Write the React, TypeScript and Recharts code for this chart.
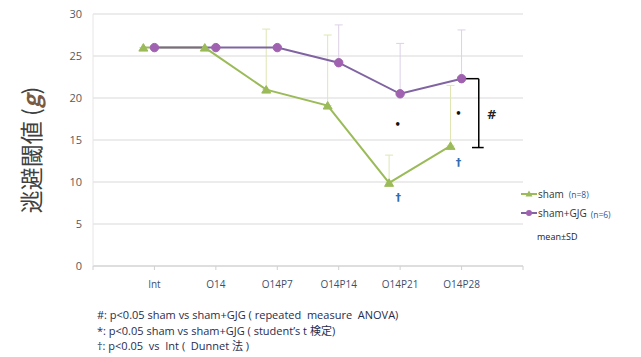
import React from 'react';
import {
  ComposedChart,
  Line,
  XAxis,
  YAxis,
  CartesianGrid,
  ErrorBar,
  ReferenceLine,
  ReferenceDot,
} from 'recharts';

// Time points
const categories = ['Int', 'O14', 'O14P7', 'O14P14', 'O14P21', 'O14P28'];

// sham (n=8): mean and SD
const shamMean = [26, 26, 21.0, 19.1, 9.9, 14.3];
const shamSD = [0, 0, 7.2, 8.4, 3.3, 7.2];

// sham+GJG (n=6): mean and SD
const gjgMean = [26, 26, 26, 24.2, 20.5, 22.3];
const gjgSD = [0, 0, 0, 4.5, 6.0, 5.8];

const yTicks = [0, 5, 10, 15, 20, 25, 30];
const xTicks = [0, 1, 2, 3, 4, 5, 6, 7];

const footnotes = [
  '#: p<0.05 sham vs sham+GJG ( repeated  measure  ANOVA)',
  '*: p<0.05 sham vs sham+GJG ( student\u2019s t 検定)',
  '\u2020: p<0.05  vs  Int (  Dunnet 法 )',
];

const GREEN = '#9bbb59';
const PURPLE = '#8064a2';
const PURPLE_DOT = '#a062b0';
const GREEN_ERR = '#dfe6b4';
const PURPLE_ERR = '#ddd0e6';
const SHAM_SHIFT = 0.18;

const shamData = categories.map((c, i) => ({
  x: i + 1 - SHAM_SHIFT,
  y: shamMean[i],
  err: [0, shamSD[i]],
}));
const gjgData = categories.map((c, i) => ({
  x: i + 1,
  y: gjgMean[i],
  err: [0, gjgSD[i]],
}));

const Triangle = (props: any) => {
  const { cx, cy } = props;
  if (cx == null || cy == null) return null;
  return (
    <polygon
      points={`${cx},${cy - 4} ${cx - 4.5},${cy + 3.5} ${cx + 4.5},${cy + 3.5}`}
      fill={GREEN}
      stroke={GREEN}
    />
  );
};

const Circle = (props: any) => {
  const { cx, cy } = props;
  if (cx == null || cy == null) return null;
  return <circle cx={cx} cy={cy} r={4.2} fill={PURPLE_DOT} stroke={PURPLE_DOT} />;
};

const markLabel = (text: string, color: string, size: number) => (p: any) => {
  const { viewBox } = p;
  const cx = viewBox.x + (viewBox.width || 0) / 2;
  const cy = viewBox.y + (viewBox.height || 0) / 2;
  return (
    <text
      x={cx}
      y={cy}
      textAnchor="middle"
      dominantBaseline="central"
      fill={color}
      fontSize={size}
      fontFamily="DejaVu Sans, sans-serif"
      fontWeight="bold"
    >
      {text}
    </text>
  );
};

const font = '"Open Sans", "Noto Sans CJK JP", sans-serif';

export default function App() {
  return (
    <div
      style={{
        position: 'absolute',
        left: 0,
        top: 0,
        width: 641,
        height: 357,
        background: '#ffffff',
        fontFamily: font,
      }}
    >
      <ComposedChart
        width={641}
        height={357}
        margin={{ top: 14, right: 118, left: 0, bottom: 61 }}
      >
        <CartesianGrid horizontal vertical={false} stroke="#d9d9d9" />
        <XAxis
          dataKey="x"
          type="number"
          domain={[0, 7]}
          ticks={xTicks}
          interval={0}
          height={30}
          tickFormatter={(v: number) => categories[v - 1] ?? ''}
          axisLine={{ stroke: '#d0d0d0' }}
          tickLine={{ stroke: '#d0d0d0' }}
          tickSize={4}
          tickMargin={11}
          tick={{ fontSize: 10, fill: '#3f4f6b', fontFamily: font }}
          allowDuplicatedCategory={false}
        />
        <YAxis
          type="number"
          domain={[0, 30]}
          ticks={yTicks}
          width={93}
          axisLine={{ stroke: '#e6e6e6' }}
          tickLine={false}
          tickSize={0}
          tickMargin={11}
          tick={{ fontSize: 11, fill: '#595959', fontFamily: font }}
        />
        <Line
          data={shamData}
          dataKey="y"
          stroke={GREEN}
          strokeWidth={2}
          dot={<Triangle />}
          activeDot={false}
          isAnimationActive={false}
        >
          <ErrorBar dataKey="err" direction="y" width={4} stroke={GREEN_ERR} strokeWidth={1} />
        </Line>
        <Line
          data={gjgData}
          dataKey="y"
          stroke={PURPLE}
          strokeWidth={2}
          dot={<Circle />}
          activeDot={false}
          isAnimationActive={false}
        >
          <ErrorBar dataKey="err" direction="y" width={4} stroke={PURPLE_ERR} strokeWidth={1} />
        </Line>

        {/* repeated-measure bracket from the last sham+GJG point */}
        <ReferenceLine
          segment={[{ x: 6.05, y: gjgMean[5] }, { x: 6.28, y: gjgMean[5] }]}
          stroke="#000"
          strokeWidth={1.5}
        />
        <ReferenceLine
          segment={[{ x: 6.28, y: gjgMean[5] }, { x: 6.28, y: 14.1 }]}
          stroke="#000"
          strokeWidth={1.5}
        />
        <ReferenceLine
          segment={[{ x: 6.17, y: 14.1 }, { x: 6.36, y: 14.1 }]}
          stroke="#000"
          strokeWidth={1.5}
        />
        <ReferenceDot x={6.49} y={18.0} r={0} label={markLabel('#', '#222', 12)} />

        {/* t-test marks */}
        <ReferenceDot x={4.96} y={16.8} r={0} label={markLabel('\u2022', '#111', 10)} />
        <ReferenceDot x={5.95} y={18.2} r={0} label={markLabel('\u2022', '#111', 10)} />

        {/* Dunnett marks */}
        <ReferenceDot x={4.97} y={8.2} r={0} label={markLabel('\u2020', '#2f6db5', 11)} />
        <ReferenceDot x={5.95} y={12.3} r={0} label={markLabel('\u2020', '#2f6db5', 11)} />
      </ComposedChart>

      {/* y-axis title */}
      <div
        style={{
          position: 'absolute',
          left: 30,
          top: 150,
          transform: 'translate(-50%, -50%) rotate(-90deg)',
          whiteSpace: 'nowrap',
          fontSize: 23,
          color: '#404040',
          fontFamily: '"Noto Sans CJK JP", sans-serif',
          lineHeight: 1,
        }}
      >
        逃避閾値 (<span style={{ fontStyle: 'italic', fontWeight: 'bold', color: '#7a5a40' }}>g</span>)
      </div>

      {/* legend */}
      <div style={{ position: 'absolute', left: 521, top: 186, fontSize: 10, color: '#333', lineHeight: 1 }}>
        <div style={{ display: 'flex', alignItems: 'center', height: 16 }}>
          <svg width={16} height={10}>
            <line x1={0} y1={5} x2={16} y2={5} stroke={GREEN} strokeWidth={2} />
            <polygon points="8,1.5 4.5,7.5 11.5,7.5" fill={GREEN} />
          </svg>
          <span style={{ marginLeft: 1 }}>sham</span>
          <span style={{ marginLeft: 5, fontSize: 8.5, color: '#2f5597', marginTop: 3 }}>(n=8)</span>
        </div>
        <div style={{ display: 'flex', alignItems: 'center', height: 16, marginTop: 3 }}>
          <svg width={16} height={10}>
            <line x1={0} y1={5} x2={16} y2={5} stroke={PURPLE} strokeWidth={2} />
            <circle cx={8} cy={5} r={3} fill={PURPLE_DOT} />
          </svg>
          <span style={{ marginLeft: 1 }}>sham+GJG</span>
          <span style={{ marginLeft: 4, fontSize: 8.5, color: '#2f5597', marginTop: 5 }}>(n=6)</span>
        </div>
        <div style={{ marginLeft: 16, marginTop: 11, fontSize: 9, color: '#222' }}>mean±SD</div>
      </div>

      {/* footnotes */}
      <div
        style={{
          position: 'absolute',
          left: 97,
          top: 307,
          fontSize: 11,
          lineHeight: '15.5px',
          color: '#1f2d4d',
          whiteSpace: 'pre',
        }}
      >
        {footnotes.map((t) => (
          <div key={t}>{t}</div>
        ))}
      </div>
    </div>
  );
}
